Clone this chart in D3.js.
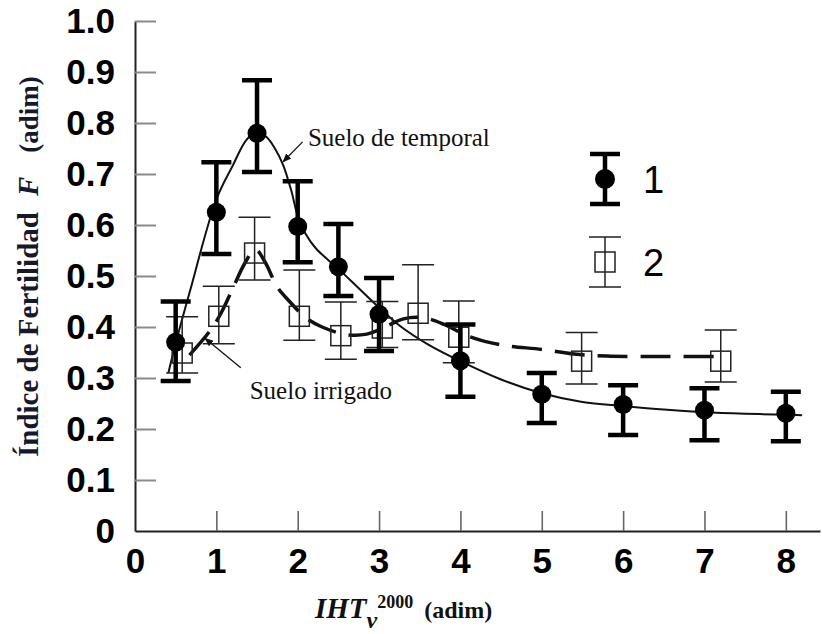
<!DOCTYPE html>
<html>
<head>
  <meta charset="UTF-8">
  <title>Índice de Fertilidad</title>
  <script src="https://d3js.org/d3.v7.min.js"></script>
  <style>
    body {
      margin: 0;
      background: #fff;
    }
    .tick-label {
      font-family: "Liberation Sans", Arial, sans-serif;
      font-weight: bold;
      font-size: 35px;
      fill: #000;
    }
    .serif {
      font-family: "Liberation Serif", "Times New Roman", serif;
    }
  </style>
</head>
<body>
  <div id="chart"></div>
  <script>
    // suelo de temporal (1)
    const x1 = [0.5, 1, 1.5, 2, 2.5, 3, 4, 5, 6, 7, 8];
    const f1 = [0.37, 0.625, 0.78, 0.597, 0.518, 0.425, 0.334, 0.268, 0.248, 0.237, 0.231];
    const f1Hi = [0.45, 0.723, 0.884, 0.686, 0.602, 0.496, 0.405, 0.31, 0.286, 0.28, 0.273];
    const f1Lo = [0.294, 0.543, 0.704, 0.527, 0.461, 0.353, 0.263, 0.212, 0.188, 0.178, 0.176];

    // suelo irrigado (2)
    const x2 = [0.58, 1.03, 1.47, 2.02, 2.53, 3.04, 3.48, 3.98, 5.49, 7.2];
    const f2 = [0.349, 0.421, 0.545, 0.421, 0.383, 0.398, 0.427, 0.38, 0.333, 0.333];
    const f2Hi = [0.42, 0.48, 0.615, 0.512, 0.449, 0.45, 0.522, 0.451, 0.389, 0.394];
    const f2Lo = [0.31, 0.367, 0.492, 0.374, 0.337, 0.36, 0.375, 0.33, 0.288, 0.292];

    // fitted curves
    const curve1X = [0.41, 0.49, 0.675, 1.0, 1.2, 1.37, 1.5, 1.62, 1.72, 1.82, 1.92, 2.0, 2.1, 2.23, 2.5, 2.75, 3.0, 3.25, 3.6, 4.0, 4.5, 5.0, 5.5, 6.0, 6.5, 7.0, 7.5, 8.0, 8.2];
    const curve1F = [0.31, 0.362, 0.47, 0.65, 0.716, 0.767, 0.783, 0.772, 0.75, 0.718, 0.668, 0.618, 0.582, 0.553, 0.514, 0.476, 0.438, 0.403, 0.366, 0.333, 0.297, 0.27, 0.253, 0.245, 0.238, 0.233, 0.23, 0.228, 0.227];
    const curve2X = [0.67, 0.92, 1.05, 1.2, 1.35, 1.48, 1.6, 1.75, 1.9, 2.1, 2.3, 2.6, 2.85, 3.05, 3.3, 3.55, 3.8, 4.1, 4.5, 5.0, 5.4, 5.8, 6.5, 7.2];
    const curve2F = [0.345, 0.392, 0.425, 0.475, 0.525, 0.552, 0.527, 0.478, 0.45, 0.418, 0.40, 0.385, 0.386, 0.398, 0.416, 0.418, 0.405, 0.382, 0.365, 0.356, 0.347, 0.343, 0.342, 0.342];

    const xTicks = [0, 1, 2, 3, 4, 5, 6, 7, 8];
    const yTicks = [0, 0.1, 0.2, 0.3, 0.4, 0.5, 0.6, 0.7, 0.8, 0.9, 1.0];

    const W = 822, H = 634;
    const x = d3.scaleLinear().domain([0, 8.42]).range([135, 820]);
    const y = d3.scaleLinear().domain([0, 1]).range([531, 21]);

    const svg = d3.select("#chart").append("svg")
      .attr("width", W)
      .attr("height", H);

    // axes
    const yAxis = d3.axisLeft(y)
      .tickValues(yTicks)
      .tickFormat(d => d === 0 ? "0" : d3.format(".1f")(d))
      .tickSizeInner(-21)
      .tickSizeOuter(0)
      .tickPadding(20);

    const gy = svg.append("g")
      .attr("transform", `translate(${x(0)},0)`)
      .call(yAxis);
    gy.select(".domain").attr("stroke", "#222").attr("stroke-width", 2);
    gy.selectAll(".tick line").attr("stroke", "#8a8a8a").attr("stroke-width", 2)
      .filter(d => d === 0).remove();
    gy.selectAll(".tick text").attr("class", "tick-label").attr("x", -20);

    const xAxis = d3.axisBottom(x)
      .tickValues(xTicks)
      .tickFormat(d3.format("d"))
      .tickSizeInner(-20)
      .tickSizeOuter(0)
      .tickPadding(17);

    const gx = svg.append("g")
      .attr("transform", `translate(0,${y(0)})`)
      .call(xAxis);
    gx.select(".domain").attr("stroke", "#222").attr("stroke-width", 2);
    gx.selectAll(".tick line").attr("stroke", "#666").attr("stroke-width", 1.6)
      .filter(d => d === 0).remove();
    gx.selectAll(".tick text").attr("class", "tick-label");

    // axis titles
    const yTitle = svg.append("text")
      .attr("class", "serif")
      .attr("transform", `translate(38,457) rotate(-90)`)
      .attr("fill", "#15192b")
      .attr("font-weight", "bold");
    yTitle.append("tspan").attr("font-size", 29).text("Índice de Fertilidad");
    yTitle.append("tspan").attr("font-size", 29).attr("font-style", "italic").attr("dx", 16).text("F");
    yTitle.append("tspan").attr("font-size", 27).attr("dx", 24).text("(adim)");

    const xTitle = svg.append("text")
      .attr("class", "serif")
      .attr("x", 315)
      .attr("y", 618)
      .attr("fill", "#111")
      .attr("font-weight", "bold");
    xTitle.append("tspan").attr("font-size", 29).attr("font-style", "italic").text("IHT");
    xTitle.append("tspan").attr("font-size", 24).attr("font-style", "italic").attr("dy", 10).text("v");
    xTitle.append("tspan").attr("font-size", 18).attr("dy", -20).attr("dx", 0).text("2000");
    xTitle.append("tspan").attr("font-size", 24).attr("dy", 10).attr("dx", 11).text("(adim)");

    // curves
    const line = d3.line()
      .x(d => x(d[0]))
      .y(d => y(d[1]))
      .curve(d3.curveCatmullRom.alpha(0.5));

    svg.append("path")
      .datum(d3.zip(curve2X, curve2F))
      .attr("d", line)
      .attr("fill", "none")
      .attr("stroke", "#111")
      .attr("stroke-width", 3.5)
      .attr("stroke-dasharray", "30,13");

    svg.append("path")
      .datum(d3.zip(curve1X, curve1F))
      .attr("d", line)
      .attr("fill", "none")
      .attr("stroke", "#111")
      .attr("stroke-width", 2);

    // series 2: open squares with thin error bars
    const s2 = x2.map((v, i) => ({ x: v, f: f2[i], hi: f2Hi[i], lo: f2Lo[i] }));
    const g2 = svg.append("g").attr("stroke", "#222").attr("fill", "none").attr("stroke-width", 1.5);
    g2.selectAll(".bar2").data(s2).enter().append("path")
      .attr("d", d => `M${x(d.x)},${y(d.hi)}V${y(d.lo)}M${x(d.x) - 16},${y(d.hi)}h32M${x(d.x) - 16},${y(d.lo)}h32`);
    g2.selectAll(".sq").data(s2).enter().append("rect")
      .attr("x", d => x(d.x) - 10)
      .attr("y", d => y(d.f) - 10)
      .attr("width", 20)
      .attr("height", 20);

    // series 1: filled circles with thick error bars
    const s1 = x1.map((v, i) => ({ x: v, f: f1[i], hi: f1Hi[i], lo: f1Lo[i] }));
    const g1 = svg.append("g");
    g1.selectAll(".bar1").data(s1).enter().append("path")
      .attr("d", d => `M${x(d.x)},${y(d.hi)}V${y(d.lo)}M${x(d.x) - 15},${y(d.hi)}h30M${x(d.x) - 15},${y(d.lo)}h30`)
      .attr("stroke", "#000")
      .attr("stroke-width", 4.5)
      .attr("fill", "none");
    g1.selectAll(".dot").data(s1).enter().append("circle")
      .attr("cx", d => x(d.x))
      .attr("cy", d => y(d.f))
      .attr("r", 9.5)
      .attr("fill", "#000");

    // annotations
    svg.append("defs").append("marker")
      .attr("id", "arrow")
      .attr("viewBox", "0 0 10 10")
      .attr("refX", 9).attr("refY", 5)
      .attr("markerWidth", 7).attr("markerHeight", 7)
      .attr("orient", "auto")
      .append("path").attr("d", "M0,1L10,5L0,9Z").attr("fill", "#111");

    const notes = [
      { text: "Suelo de temporal", tx: 2.125, tf: 0.755, ax: 2.06, af: 0.763, bx: 1.82, bf: 0.724 },
      { text: "Suelo irrigado", tx: 1.41, tf: 0.259, ax: 1.30, af: 0.32, bx: 0.86, bf: 0.378 }
    ];
    notes.forEach(n => {
      svg.append("line")
        .attr("x1", x(n.ax)).attr("y1", y(n.af))
        .attr("x2", x(n.bx)).attr("y2", y(n.bf))
        .attr("stroke", "#111").attr("stroke-width", 1.3)
        .attr("marker-end", "url(#arrow)");
      svg.append("text")
        .attr("class", "serif")
        .attr("x", x(n.tx)).attr("y", y(n.tf))
        .attr("font-size", 25)
        .attr("fill", "#111")
        .text(n.text);
    });

    // legend
    const legend = svg.append("g");
    const l1 = legend.append("g").attr("transform", "translate(605,179)");
    l1.append("path").attr("d", "M0,-25V25M-15,-25h30M-15,25h30")
      .attr("stroke", "#000").attr("stroke-width", 4.5).attr("fill", "none");
    l1.append("circle").attr("r", 10).attr("fill", "#000");
    l1.append("text").attr("x", 38).attr("y", 14)
      .attr("font-family", "Liberation Sans, Arial, sans-serif")
      .attr("font-size", 38).text("1");

    const l2 = legend.append("g").attr("transform", "translate(605,262)");
    l2.append("path").attr("d", "M0,-25V25M-16,-25h32M-16,25h32")
      .attr("stroke", "#222").attr("stroke-width", 1.5).attr("fill", "none");
    l2.append("rect").attr("x", -10).attr("y", -10).attr("width", 20).attr("height", 20)
      .attr("fill", "none").attr("stroke", "#222").attr("stroke-width", 1.5);
    l2.append("text").attr("x", 38).attr("y", 14)
      .attr("font-family", "Liberation Sans, Arial, sans-serif")
      .attr("font-size", 38).text("2");
  </script>
</body>
</html>
